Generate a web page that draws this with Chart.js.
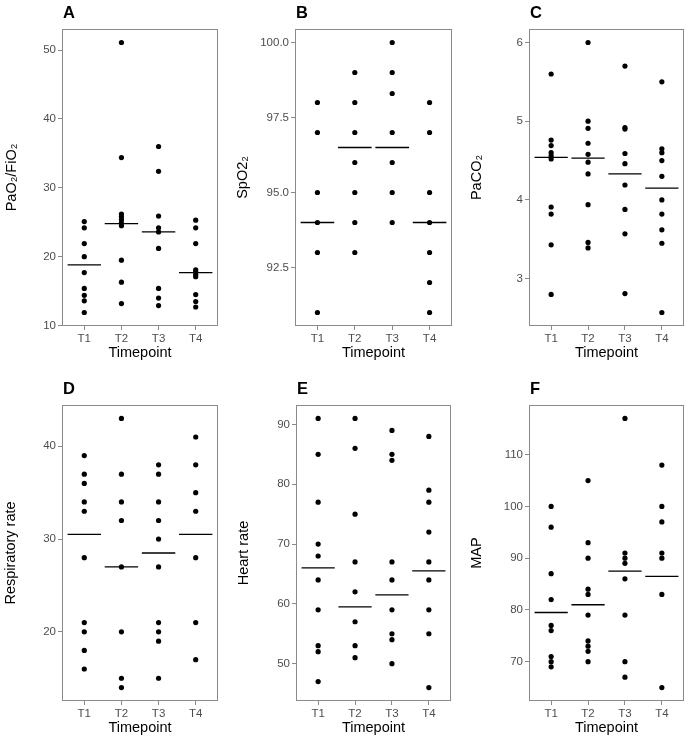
<!DOCTYPE html>
<html><head><meta charset="utf-8">
<script src="https://cdn.jsdelivr.net/npm/chart.js@4.4.0/dist/chart.umd.min.js"></script>
<style>
html,body{margin:0;padding:0;background:#fff;overflow:hidden;width:688px;height:739px;}
canvas{position:absolute;}
</style></head><body>
<canvas id="cA" width="222" height="365" style="left:0px;top:0px"></canvas>
<canvas id="cB" width="228" height="365" style="left:228px;top:0px"></canvas>
<canvas id="cC" width="233" height="365" style="left:455px;top:0px"></canvas>
<canvas id="cD" width="222" height="364" style="left:0px;top:376px"></canvas>
<canvas id="cE" width="227" height="364" style="left:228px;top:376px"></canvas>
<canvas id="cF" width="233" height="364" style="left:455px;top:376px"></canvas>
<script>
// ---- data ----
const categories = ["T1", "T2", "T3", "T4"];

const pfRatio = [
  [25.1, 24.2, 21.9, 20.0, 17.7, 15.4, 14.4, 13.6, 11.9],
  [51.1, 34.4, 26.2, 25.8, 25.4, 24.9, 24.5, 19.5, 16.3, 13.2],
  [36.0, 32.4, 25.9, 24.2, 23.6, 21.2, 15.4, 14.0, 12.9],
  [25.3, 24.2, 21.9, 18.1, 17.8, 17.4, 17.1, 14.5, 13.5, 12.7]
];
const pfMedian = [18.8, 24.8, 23.6, 17.7];
const pfTicks = [10, 20, 30, 40, 50];

const spo2 = [
  [98, 97, 95, 94, 93, 91],
  [99, 98, 97, 96, 95, 94, 93],
  [100, 99, 98.3, 97, 96, 95, 94],
  [98, 97, 95, 94, 93, 92, 91]
];
const spo2Median = [94, 96.5, 96.5, 94];
const spo2Ticks = [92.5, 95.0, 97.5, 100.0];

const paco2 = [
  [5.60, 4.76, 4.69, 4.60, 4.56, 4.52, 3.91, 3.82, 3.43, 2.80],
  [6.00, 5.00, 4.91, 4.72, 4.58, 4.48, 4.33, 3.94, 3.46, 3.39],
  [5.70, 4.92, 4.90, 4.59, 4.46, 4.19, 3.88, 3.57, 2.81],
  [5.50, 4.65, 4.60, 4.50, 4.30, 4.00, 3.82, 3.62, 3.45, 2.57]
];
const paco2Median = [4.54, 4.53, 4.33, 4.15];
const paco2Ticks = [3, 4, 5, 6];

const respRate = [
  [39, 37, 36, 34, 33, 28, 21, 20, 18, 16],
  [43, 37, 34, 32, 27, 20, 15, 14],
  [38, 37, 34, 32, 30, 27, 21, 20, 19, 15],
  [41, 38, 35, 33, 28, 21, 17]
];
const respMedian = [30.5, 27, 28.5, 30.5];
const respTicks = [20, 30, 40];

const heartRate = [
  [91, 85, 77, 70, 68, 64, 59, 53, 52, 47],
  [91, 86, 75, 67, 62, 57, 53, 51],
  [89, 85, 84, 67, 64, 59, 55, 54, 50],
  [88, 79, 77, 72, 67, 64, 59, 55, 46]
];
const hrMedian = [66, 59.5, 61.5, 65.5];
const hrTicks = [50, 60, 70, 80, 90];

const mapValues = [
  [100, 96, 87, 82, 77, 76, 71, 70, 69],
  [105, 93, 90, 84, 83, 79, 74, 73, 72, 70],
  [117, 91, 90, 89, 86, 79, 70, 67],
  [108, 100, 97, 91, 90, 83, 65]
];
const mapMedian = [79.5, 81, 87.5, 86.5];
const mapTicks = [70, 80, 90, 100, 110];

// ---- rendering ----
const FONT = "'Liberation Sans', Arial, Helvetica, sans-serif";
Chart.defaults.font.family = FONT;
const FRAME = '#8a8a8a';
const TICKTXT = '#4d4d4d';

const framePlugin = {
  id: 'frame',
  afterDatasetsDraw(chart) {
    const a = chart.chartArea, ctx = chart.ctx;
    ctx.save();
    ctx.strokeStyle = FRAME;
    ctx.lineWidth = 1;
    ctx.strokeRect(a.left + 0.5, a.top + 0.5, a.width - 1, a.height - 1);
    ctx.restore();
  }
};
const letterPlugin = {
  id: 'letter',
  afterDraw(chart, args, opts) {
    const a = chart.chartArea, ctx = chart.ctx;
    ctx.save();
    ctx.fillStyle = '#000';
    ctx.font = "bold 16.5px " + FONT;
    ctx.textBaseline = 'alphabetic';
    ctx.textAlign = 'left';
    ctx.fillText(opts.text, a.left + 1, a.top - 11);
    ctx.restore();
  }
};

function makePanel(id, letter, yTitle, groups, medians, ticks, dec, yAxisW, titlePad) {
  let lo = Infinity, hi = -Infinity;
  groups.forEach(g => g.forEach(v => { lo = Math.min(lo, v); hi = Math.max(hi, v); }));
  const ext = (hi - lo) * 0.05;
  const pts = [];
  groups.forEach((g, i) => g.forEach(v => pts.push({ x: i + 1, y: v })));
  const segs = [];
  medians.forEach((m, i) => {
    segs.push({ x: i + 1 - 0.45, y: m });
    segs.push({ x: i + 1 + 0.45, y: m });
    segs.push({ x: i + 1.5, y: null });
  });
  new Chart(document.getElementById(id), {
    type: 'scatter',
    data: {
      datasets: [
        { data: segs, showLine: true, spanGaps: false, borderColor: '#000', borderWidth: 1.3,
          pointRadius: 0, borderCapStyle: 'butt' },
        { data: pts, pointRadius: 2.6, pointBackgroundColor: '#000', backgroundColor: '#000',
          pointBorderWidth: 0, borderWidth: 0 }
      ]
    },
    options: {
      responsive: false,
      animation: false,
      events: [],
      layout: { padding: { top: 29, right: 2, left: 0, bottom: 0 } },
      plugins: { legend: { display: false }, tooltip: { enabled: false }, letter: { text: letter } },
      scales: {
        x: {
          type: 'linear', min: 0.4, max: 4.6,
          afterBuildTicks: s => { s.ticks = categories.map((c, i) => ({ value: i + 1 })); },
          afterFit: s => { s.height = 39; },
          ticks: { callback: v => categories[Math.round(v) - 1], color: TICKTXT,
                   font: { size: 11.5 }, padding: 2, maxRotation: 0, autoSkip: false },
          grid: { display: true, drawOnChartArea: false, drawTicks: true, tickLength: 4, color: FRAME },
          border: { display: false },
          title: { display: true, text: 'Timepoint', color: '#000', font: { size: 14.5 },
                   padding: { top: 0, bottom: 3.5 } }
        },
        y: {
          type: 'linear', min: lo - ext, max: hi + ext,
          afterBuildTicks: s => { s.ticks = ticks.map(v => ({ value: v })); },
          afterFit: s => { s.width = yAxisW; },
          ticks: { callback: v => Number(v).toFixed(dec), color: TICKTXT, font: { size: 11.5 }, padding: 2 },
          grid: { display: true, drawOnChartArea: false, drawTicks: true, tickLength: 4, color: FRAME },
          border: { display: false },
          title: { display: true, text: yTitle, color: '#000', font: { size: 14.5 },
                   padding: { top: titlePad, bottom: 0 } }
        }
      }
    },
    plugins: [framePlugin, letterPlugin]
  });
}

makePanel('cA', 'A', 'PaO\u2082/FiO\u2082', pfRatio, pfMedian, pfTicks, 0, 62, 2.8);
makePanel('cB', 'B', 'SpO2\u2082', spo2, spo2Median, spo2Ticks, 1, 67, 5.8);
makePanel('cC', 'C', 'PaCO\u2082', paco2, paco2Median, paco2Ticks, 0, 74, 13.3);
makePanel('cD', 'D', 'Respiratory rate', respRate, respMedian, respTicks, 0, 62, 2.3);
makePanel('cE', 'E', 'Heart rate', heartRate, hrMedian, hrTicks, 0, 68, 7.3);
makePanel('cF', 'F', 'MAP', mapValues, mapMedian, mapTicks, 0, 74, 13.3);
</script>
</body></html>
